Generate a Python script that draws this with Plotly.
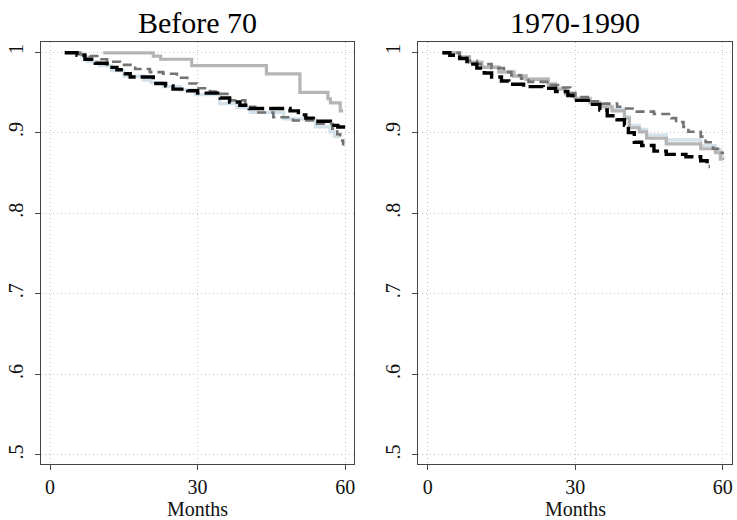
import plotly.graph_objects as go

# ---- data: step starts (months) and survival levels ----
# Panel 1: Before 70
l_black_m = [3.0, 5.5, 7.1, 9.2, 11.6, 13.6, 15.3, 16.3, 21.0, 23.5, 25.0, 28.0, 30.0, 34.6, 36.5, 38.6, 40.5, 48.8, 50.5, 52.0, 53.5, 57.0, 58.5, 60.0]
l_black_s = [0.999, 0.996, 0.991, 0.986, 0.981, 0.978, 0.973, 0.969, 0.961, 0.958, 0.954, 0.952, 0.949, 0.943, 0.938, 0.934, 0.930, 0.927, 0.922, 0.918, 0.914, 0.909, 0.907, 0.907]
l_dgray_m = [3.0, 6.1, 8.1, 10.2, 11.6, 14.2, 17.3, 20.3, 23.0, 25.8, 27.9, 29.9, 32.5, 34.0, 36.6, 39.7, 41.7, 45.4, 49.4, 53.9, 57.4, 58.4, 59.0, 59.6]
l_dgray_s = [0.999, 0.997, 0.995, 0.991, 0.988, 0.984, 0.979, 0.975, 0.973, 0.968, 0.961, 0.955, 0.951, 0.948, 0.940, 0.932, 0.925, 0.919, 0.915, 0.911, 0.905, 0.898, 0.890, 0.884]
l_lgray_m = [10.8, 21.0, 22.5, 28.8, 44.0, 50.8, 56.5, 57.0, 59.0, 59.6]
l_lgray_s = [0.999, 0.995, 0.991, 0.983, 0.973, 0.950, 0.942, 0.937, 0.927, 0.927]
l_lblue_m = [3.0, 6.5, 7.6, 10.0, 12.5, 15.0, 19.0, 20.5, 23.0, 26.5, 29.5, 34.5, 38.0, 40.7, 47.5, 54.0, 56.9, 57.8, 58.5]
l_lblue_s = [0.999, 0.994, 0.988, 0.983, 0.977, 0.970, 0.965, 0.962, 0.957, 0.953, 0.947, 0.936, 0.931, 0.925, 0.917, 0.907, 0.901, 0.895, 0.893]

# Panel 2: 1970-1990
r_black_m = [3.0, 4.5, 6.5, 8.0, 10.0, 11.5, 13.0, 15.0, 16.5, 19.5, 23.5, 26.0, 28.5, 29.5, 33.0, 35.0, 36.5, 38.5, 40.0, 40.8, 42.0, 43.5, 46.0, 48.5, 52.5, 55.5, 56.8, 57.3]
r_black_s = [0.999, 0.996, 0.992, 0.985, 0.980, 0.974, 0.969, 0.964, 0.960, 0.957, 0.955, 0.951, 0.946, 0.940, 0.935, 0.928, 0.921, 0.916, 0.909, 0.900, 0.888, 0.884, 0.877, 0.873, 0.870, 0.865, 0.858, 0.858]
r_dgray_m = [3.0, 6.5, 8.0, 10.0, 13.0, 15.5, 17.0, 19.0, 20.5, 25.0, 26.5, 29.0, 30.0, 33.0, 35.5, 38.5, 40.0, 42.5, 46.0, 49.5, 50.5, 52.0, 53.0, 55.5, 56.5, 58.0, 59.0, 60.0]
r_dgray_s = [0.999, 0.993, 0.989, 0.985, 0.980, 0.975, 0.971, 0.967, 0.963, 0.959, 0.956, 0.949, 0.944, 0.939, 0.936, 0.932, 0.930, 0.926, 0.923, 0.918, 0.913, 0.907, 0.901, 0.895, 0.888, 0.880, 0.875, 0.873]
r_lgray_m = [3.0, 6.5, 8.5, 11.0, 14.5, 17.5, 20.0, 24.5, 26.0, 28.0, 30.0, 33.0, 35.0, 37.5, 40.0, 41.0, 43.0, 44.5, 48.5, 55.5, 58.5, 59.5, 60.0]
r_lgray_s = [0.999, 0.994, 0.987, 0.981, 0.975, 0.970, 0.966, 0.960, 0.954, 0.948, 0.942, 0.937, 0.932, 0.927, 0.918, 0.906, 0.901, 0.893, 0.886, 0.880, 0.875, 0.867, 0.866]
r_lblue_m = [3.0, 6.5, 8.5, 11.0, 14.5, 17.5, 20.0, 24.5, 26.0, 28.0, 30.0, 33.0, 35.0, 37.5, 40.0, 41.0, 43.0, 44.5, 48.5, 55.5, 58.5, 59.5, 60.0]
r_lblue_s = [0.999, 0.994, 0.988, 0.982, 0.976, 0.971, 0.967, 0.961, 0.955, 0.949, 0.943, 0.938, 0.933, 0.929, 0.920, 0.909, 0.904, 0.897, 0.891, 0.884, 0.879, 0.870, 0.869]

panel_titles = ["Before 70", "1970-1990"]
x_ticks = [0, 30, 60]
y_ticks = [0.5, 0.6, 0.7, 0.8, 0.9, 1.0]
y_ticktext = [".5", ".6", ".7", ".8", ".9", "1"]

styles = {
    "lblue": dict(color="#d3e2ea", width=3.2),
    "lgray": dict(color="#b5b5b5", width=3.2),
    "dgray": dict(color="#737373", width=2.6, dash="9px,5px"),
    "black": dict(color="#000000", width=3.4, dash="15px,5px"),
}

fig = go.Figure()
panels = [
    ("x", "y", [("lblue", l_lblue_m, l_lblue_s), ("lgray", l_lgray_m, l_lgray_s),
                ("dgray", l_dgray_m, l_dgray_s), ("black", l_black_m, l_black_s)]),
    ("x2", "y2", [("lblue", r_lblue_m, r_lblue_s), ("lgray", r_lgray_m, r_lgray_s),
                  ("dgray", r_dgray_m, r_dgray_s), ("black", r_black_m, r_black_s)]),
]
for xa, ya, series in panels:
    for key, m, s in series:
        fig.add_trace(go.Scatter(x=m, y=s, mode="lines", line=dict(shape="hv", **styles[key]),
                                 xaxis=xa, yaxis=ya, showlegend=False, hoverinfo="skip"))

W, H = 737, 520
ydom = [1 - 464 / H, 1 - 41.7 / H]
xdoms = [[40.7 / W, 354 / W], [418.3 / W, 731.7 / W]]
font_serif = "Liberation Serif"

axis_common = dict(showline=True, mirror=True, linecolor="#454545", linewidth=1.2,
                   ticks="outside", ticklen=5, tickcolor="#454545", tickwidth=1,
                   showgrid=True, gridcolor="#c4c4c4", griddash="1px,3px", gridwidth=1,
                   zeroline=False, tickfont=dict(family=font_serif, size=20, color="#111"))

layout = dict(width=W, height=H, margin=dict(l=0, r=0, t=0, b=0),
              font=dict(family=font_serif),
              paper_bgcolor="white", plot_bgcolor="white")
for i, (xn, yn) in enumerate([("xaxis", "yaxis"), ("xaxis2", "yaxis2")]):
    layout[xn] = dict(domain=xdoms[i], range=[-1.9, 61.8], tickvals=x_ticks,
                      anchor="y" if i == 0 else "y2", ticklabelstandoff=0, **axis_common)
    layout[yn] = dict(domain=ydom, range=[0.4888, 1.0128], tickvals=y_ticks, ticktext=y_ticktext,
                      tickangle=-90, anchor="x" if i == 0 else "x2", ticklabelstandoff=4, **axis_common)
fig.update_layout(**layout)

ann = []
for i, t in enumerate(panel_titles):
    cx = (xdoms[i][0] + xdoms[i][1]) / 2
    ann.append(dict(text=t, x=cx, y=1 - 23 / H, xref="paper", yref="paper", showarrow=False,
                    xanchor="center", yanchor="middle", font=dict(family=font_serif, size=30, color="#000")))
    ann.append(dict(text="Months", x=cx, y=1 - 509 / H, xref="paper", yref="paper", showarrow=False,
                    xanchor="center", yanchor="middle", font=dict(family=font_serif, size=20, color="#111")))
fig.update_layout(annotations=ann)

fig.write_html("out.html")
